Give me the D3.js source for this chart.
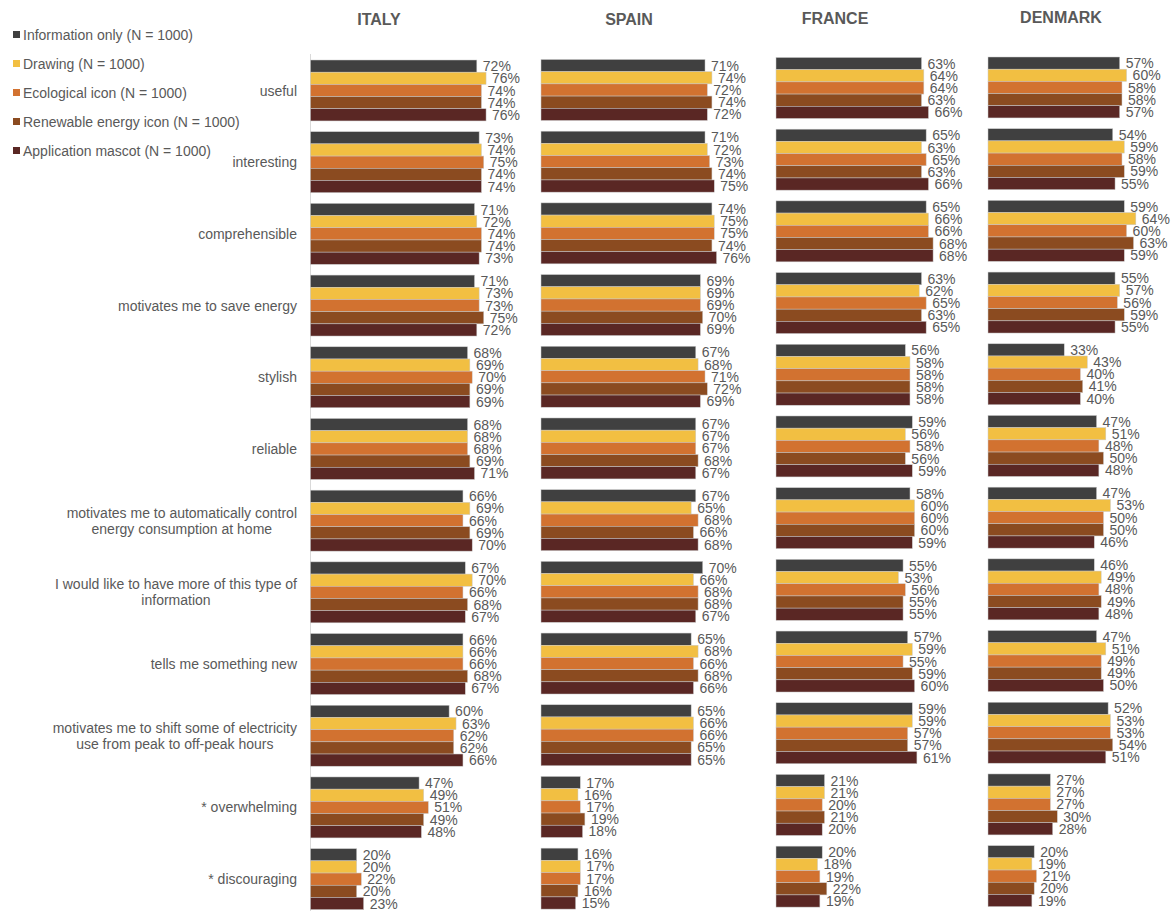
<!DOCTYPE html>
<html>
<head>
<meta charset="utf-8">
<script src="https://cdn.jsdelivr.net/npm/d3@7"></script>
<style>
  html, body { margin: 0; padding: 0; background: #fff; }
  svg { display: block; font-family: "Liberation Sans", Arial, sans-serif; }
</style>
</head>
<body>
<svg id="chart" width="1172" height="911"></svg>
<script>
// Survey statements (rows), "\n" marks a line break in the row label
const categories = [
  "useful",
  "interesting",
  "comprehensible",
  "motivates me to save energy",
  "stylish",
  "reliable",
  "motivates me to automatically control\nenergy consumption at home",
  "I would like to have more of this type of\ninformation",
  "tells me something new",
  "motivates me to shift some of electricity\nuse from peak to off-peak hours",
  "* overwhelming",
  "* discouraging"
];

const seriesNames = [
  "Information only (N = 1000)",
  "Drawing (N = 1000)",
  "Ecological icon (N = 1000)",
  "Renewable energy icon (N = 1000)",
  "Application mascot (N = 1000)"
];

const countries = ["ITALY", "SPAIN", "FRANCE", "DENMARK"];

// Share of agreement (%), one row per statement, one value per series
const italy = [
  [72, 76, 74, 74, 76],
  [73, 74, 75, 74, 74],
  [71, 72, 74, 74, 73],
  [71, 73, 73, 75, 72],
  [68, 69, 70, 69, 69],
  [68, 68, 68, 69, 71],
  [66, 69, 66, 69, 70],
  [67, 70, 66, 68, 67],
  [66, 66, 66, 68, 67],
  [60, 63, 62, 62, 66],
  [47, 49, 51, 49, 48],
  [20, 20, 22, 20, 23]
];

const spain = [
  [71, 74, 72, 74, 72],
  [71, 72, 73, 74, 75],
  [74, 75, 75, 74, 76],
  [69, 69, 69, 70, 69],
  [67, 68, 71, 72, 69],
  [67, 67, 67, 68, 67],
  [67, 65, 68, 66, 68],
  [70, 66, 68, 68, 67],
  [65, 68, 66, 68, 66],
  [65, 66, 66, 65, 65],
  [17, 16, 17, 19, 18],
  [16, 17, 17, 16, 15]
];

const france = [
  [63, 64, 64, 63, 66],
  [65, 63, 65, 63, 66],
  [65, 66, 66, 68, 68],
  [63, 62, 65, 63, 65],
  [56, 58, 58, 58, 58],
  [59, 56, 58, 56, 59],
  [58, 60, 60, 60, 59],
  [55, 53, 56, 55, 55],
  [57, 59, 55, 59, 60],
  [59, 59, 57, 57, 61],
  [21, 21, 20, 21, 20],
  [20, 18, 19, 22, 19]
];

const denmark = [
  [57, 60, 58, 58, 57],
  [54, 59, 58, 59, 55],
  [59, 64, 60, 63, 59],
  [55, 57, 56, 59, 55],
  [33, 43, 40, 41, 40],
  [47, 51, 48, 50, 48],
  [47, 53, 50, 50, 46],
  [46, 49, 48, 49, 48],
  [47, 51, 49, 49, 50],
  [52, 53, 53, 54, 51],
  [27, 27, 27, 30, 28],
  [20, 19, 21, 20, 19]
];

const countryData = [italy, spain, france, denmark];

// ---- layout ----
const colors = ["#404040", "#f2bf42", "#d27230", "#8b4b20", "#5a2724"];
const textColor = "#595959";
const fontSize = 14;

const panelLeft = [310.5, 541, 776, 988];
const panelShiftY = [0, -0.5, -2.5, -3];
const titleX = [379, 629, 835, 1061];
const titleY = [25, 25, 24, 23];

const svg = d3.select("#chart");

const y = d3.scaleBand()
  .domain(categories)
  .range([60, 909.6])
  .paddingInner(0.15)
  .paddingOuter(0);

const ySeries = d3.scaleBand()
  .domain(d3.range(seriesNames.length))
  .range([0, y.bandwidth()])
  .padding(0);

const x = d3.scaleLinear().domain([0, 100]).range([0, 231]);

countries.forEach((country, ci) => {
  const rows = countryData[ci];
  const g = svg.append("g")
    .attr("transform", `translate(${panelLeft[ci]},${panelShiftY[ci]})`);

  if (ci === 0) {
    g.append("line")
      .attr("x1", 0).attr("x2", 0)
      .attr("y1", 54).attr("y2", 911)
      .attr("stroke", "#d9d9d9")
      .attr("stroke-width", 1);
  }

  const groups = g.selectAll("g.cat")
    .data(rows)
    .join("g")
    .attr("class", "cat")
    .attr("transform", (d, i) => `translate(0,${y(categories[i])})`);

  groups.selectAll("rect")
    .data(d => d)
    .join("rect")
    .attr("x", 0)
    .attr("y", (d, j) => ySeries(j))
    .attr("width", d => x(d))
    .attr("height", ySeries.bandwidth())
    .attr("fill", (d, j) => colors[j])
    .attr("stroke", "#c9c9c9")
    .attr("stroke-width", 0.5);

  groups.selectAll("text")
    .data(d => d)
    .join("text")
    .attr("x", d => x(d) + 6)
    .attr("y", (d, j) => ySeries(j) + ySeries.bandwidth() / 2)
    .attr("dy", "0.36em")
    .attr("fill", textColor)
    .attr("font-size", fontSize)
    .text(d => d + "%");

  svg.append("text")
    .attr("x", titleX[ci])
    .attr("y", titleY[ci])
    .attr("text-anchor", "middle")
    .attr("font-size", 16)
    .attr("font-weight", "bold")
    .attr("fill", textColor)
    .text(country);
});

// Row labels: block right-aligned to the plot, lines centred within the block
const labelRight = 297;
categories.forEach(cat => {
  const lines = cat.split("\n");
  const cy = y(cat) + y.bandwidth() / 2;
  const lineH = 16;
  const t = svg.append("text")
    .attr("text-anchor", "middle")
    .attr("font-size", fontSize)
    .attr("fill", textColor);
  lines.forEach((ln, k) => {
    t.append("tspan")
      .attr("y", cy + (k - (lines.length - 1) / 2) * lineH)
      .attr("dy", "0.36em")
      .text(ln);
  });
  let maxW = 0;
  t.selectAll("tspan").each(function () {
    maxW = Math.max(maxW, this.getComputedTextLength());
  });
  t.selectAll("tspan").attr("x", labelRight - maxW / 2);
});

// Legend
const legend = svg.append("g");
const legendY = d3.scalePoint()
  .domain(seriesNames)
  .range([34.5, 150.5]);

seriesNames.forEach((name, i) => {
  const ly = legendY(name);
  legend.append("rect")
    .attr("x", 13)
    .attr("y", ly - 3.5)
    .attr("width", 7)
    .attr("height", 7)
    .attr("fill", colors[i]);
  legend.append("text")
    .attr("x", 23)
    .attr("y", ly)
    .attr("dy", "0.36em")
    .attr("font-size", fontSize)
    .attr("fill", textColor)
    .text(name);
});
</script>
</body>
</html>
